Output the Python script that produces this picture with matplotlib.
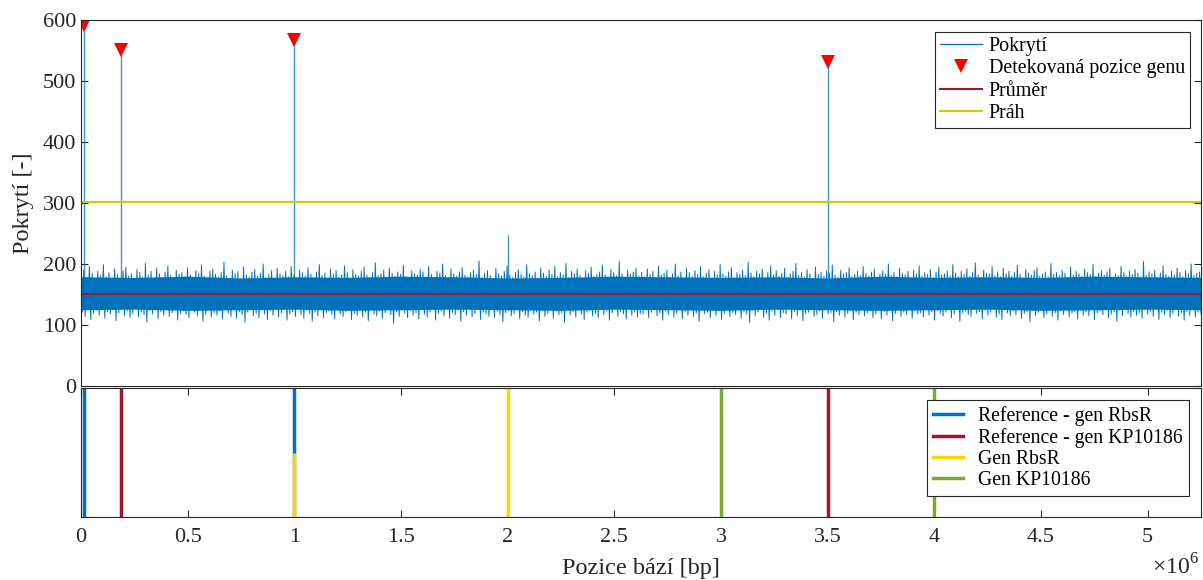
import numpy as np
import matplotlib.pyplot as plt
from matplotlib.lines import Line2D

plt.rcParams['font.family'] = ['Liberation Serif', 'DejaVu Serif']
plt.rcParams['mathtext.fontset'] = 'custom'
plt.rcParams['mathtext.rm'] = 'Liberation Serif'

genome_len = 5.25e6

# coverage fluctuations (alternating local maxima / minima along the genome)
cov_peaks = [183, 190, 178, 196, 185, 176, 188, 181, 199, 179, 186, 174, 192, 183, 177, 189, 195, 180, 184, 173,
             191, 186, 179, 201, 182, 188, 175, 193, 184, 178, 187, 197, 181, 176, 190, 183, 186, 179, 194, 182,
             177, 189, 185, 198, 180, 174, 188, 192, 183, 179, 186, 203, 181, 177, 190, 184, 188, 176, 195, 182,
             179, 187, 191, 180, 185, 200, 178, 183, 189, 176, 193, 184, 181, 188, 179, 196, 182, 175, 190, 186,
             180, 194, 183, 178, 187, 199, 181, 185, 176, 192, 184, 189, 179, 182, 197, 186, 177, 191, 183, 180,
             188, 195, 182, 178, 186, 202, 181, 184, 190, 177, 193, 185, 180, 187, 183, 198, 179, 176, 189, 184,
             182, 191, 187, 179, 196, 183, 178, 188, 185, 200, 181, 177, 192, 184, 180, 187, 194, 182, 179, 186,
             190, 183, 205, 178, 185, 189, 181, 176, 193, 184, 180, 188, 197, 182, 178, 186, 191, 183, 179, 199,
             184, 181, 187, 177, 194, 185, 180, 190, 183, 196, 179, 186, 182, 201, 178, 188, 184, 192, 181, 177,
             189, 185, 195, 180, 183, 187, 198, 182, 179, 191, 186, 181, 204, 184, 178, 190, 183, 187, 193, 180,
             186, 179, 192, 183, 188, 176, 197, 182, 185, 190, 178, 184, 200, 181, 187, 175, 193, 186, 180, 189,
             183, 196, 179, 185, 191, 177, 188, 182, 199, 184, 180, 187, 194, 178, 186, 183, 190, 181, 203, 185,
             179, 188, 184, 192, 177, 186, 197, 182, 189, 180, 185, 193, 178, 184, 188, 201, 181, 186, 179, 191,
             184, 177, 195, 183, 187, 180, 189, 185, 198, 182, 178, 190, 184, 186, 194, 179, 183, 188, 181, 196,
             185, 180, 187, 192, 178, 184, 189, 183, 200, 181, 186, 179, 193, 185, 182, 188, 177, 190, 184, 197,
             180, 186, 183, 191, 178, 187, 195, 182, 184, 189, 181, 199, 185, 179, 188, 183, 192, 180, 186, 202,
             182, 178, 190, 185, 184, 196, 181, 187, 179, 193, 184, 188, 180, 186, 198, 183, 177, 191, 185, 182,
             189, 194, 180, 184, 187, 179, 201, 183, 186, 181, 190, 185, 178, 195, 182, 188, 184, 180, 192, 186,
             183, 199, 179, 185, 189, 182, 187, 193, 178, 184, 181, 196, 186, 180, 188, 183, 191, 185, 179, 204,
             181, 187, 184, 190, 178, 185, 197, 183, 180, 188, 182, 193, 186, 179, 189, 184, 200, 181, 185, 187]
cov_troughs = [121, 114, 127, 109, 119, 124, 116, 128, 111, 122, 118, 125, 107, 120, 126, 115, 123, 112, 119, 127,
               113, 121, 117, 105, 124, 118, 126, 110, 122, 116, 128, 114, 120, 125, 108, 119, 123, 117, 112, 126,
               121, 115, 124, 106, 118, 127, 113, 120, 116, 123, 110, 125, 119, 114, 128, 111, 122, 117, 104, 121,
               126, 115, 119, 112, 124, 118, 109, 123, 116, 127, 113, 120, 125, 108, 118, 122, 114, 126, 117, 111,
               124, 119, 106, 121, 115, 127, 112, 120, 123, 117, 110, 125, 118, 114, 122, 128, 109, 119, 116, 124,
               113, 121, 107, 126, 118, 115, 123, 111, 120, 125, 117, 103, 122, 114, 127, 119, 112, 124, 116, 120,
               110, 126, 118, 113, 121, 125, 108, 119, 123, 115, 127, 111, 120, 117, 124, 106, 122, 116, 128, 113,
               119, 125, 109, 121, 118, 114, 126, 112, 123, 117, 105, 120, 124, 115, 119, 127, 110, 122, 116, 113,
               125, 118, 121, 107, 124, 114, 119, 126, 111, 123, 117, 120, 104, 125, 116, 122, 113, 127, 118, 109,
               121, 124, 115, 119, 112, 126, 117, 123, 108, 120, 125, 114, 122, 118, 110, 127, 116, 121, 113, 119,
               118, 124, 112, 121, 127, 115, 120, 108, 123, 117, 126, 113, 119, 125, 110, 122, 116, 128, 114, 120,
               106, 124, 118, 121, 112, 127, 116, 123, 109, 119, 125, 114, 120, 117, 126, 111, 122, 118, 104, 124,
               115, 121, 127, 113, 119, 108, 123, 116, 125, 112, 120, 118, 126, 110, 122, 115, 124, 107, 119, 121,
               127, 114, 117, 123, 111, 125, 118, 120, 105, 122, 116, 126, 113, 119, 124, 109, 121, 117, 128, 115,
               120, 123, 112, 118, 126, 110, 122, 116, 124, 107, 119, 125, 114, 121, 117, 127, 111, 123, 118, 120,
               113, 126, 116, 122, 108, 124, 119, 115, 121, 127, 112, 118, 125, 106, 120, 123, 117, 114, 126, 119,
               122, 110, 124, 116, 121, 127, 113, 118, 109, 125, 120, 115, 123, 117, 128, 111, 119, 122, 105, 124,
               116, 121, 126, 112, 118, 125, 114, 120, 108, 123, 117, 127, 113, 119, 122, 110, 124, 116, 121, 115,
               126, 109, 120, 123, 117, 125, 112, 118, 121, 106, 124, 115, 127, 119, 113, 122, 116, 120, 111, 125,
               118, 123, 114, 126, 109, 121, 117, 124, 112, 119, 127, 115, 120, 108, 122, 116, 125, 113, 121, 118]
# dense core of the coverage band (every 0.25 Mbp)
band_hi = [179, 178, 180, 177, 179, 178, 180, 179, 177, 178, 180, 179, 178, 179, 177, 180, 178, 179, 178, 180, 179, 178]
band_lo = [125, 126, 124, 125, 126, 124, 125, 126, 125, 124, 126, 125, 124, 126, 125, 124, 125, 126, 124, 125, 126, 125]

spike_pos = [12000, 190000, 1000000, 2000000, 3500000]
spike_val = [592, 551, 567, 248, 531]
det_pos = [12000, 190000, 1000000, 3500000]
det_val = [592, 551, 567, 531]
mean_cov = 151
threshold = 302

ref_rbsr = [12000, 1000000]
ref_kp = [190000, 3500000]
gen_rbsr = [1000000, 2000000]
gen_rbsr_top = [0.5, 1.0]
gen_kp = [3000000, 4000000]

c_blue = '#0072BD'
c_red = '#A2142F'
c_thr = '#CCCC00'
c_yel = '#FFD500'
c_green = '#77AC30'
dark = '#262626'

fig = plt.figure(figsize=(12.03, 5.8), dpi=100)
ax1 = fig.add_axes([0.0673, 0.3345, 0.931, 0.631])
ax2 = fig.add_axes([0.0673, 0.1086, 0.931, 0.2224])

# coverage trace
zig = np.ravel(np.column_stack([cov_peaks, cov_troughs]))
xz = np.linspace(0, genome_len, len(zig))
ax1.fill_between(np.linspace(0, genome_len, len(band_hi)), band_lo, band_hi, color=c_blue, lw=0)
ax1.plot(xz, zig, color=c_blue, lw=0.7)
ax1.vlines(spike_pos, mean_cov, spike_val, color=c_blue, lw=1.0, alpha=0.75)
ax1.plot(det_pos, det_val, 'v', color='#FF0000', ms=9.5, markeredgewidth=0)
ax1.axhline(mean_cov, color=c_red, lw=1.5)
ax1.axhline(threshold, color=c_thr, lw=1.5)

ax1.set_xlim(0, genome_len)
ax1.set_ylim(0, 600)
ax1.set_yticks(np.arange(0, 601, 100))
ax1.set_xticks([])
ax1.tick_params(axis='y', direction='in', right=True, length=5, labelsize=16, colors=dark, width=0.8)
ax1.set_ylabel('Pokrytí [-]', fontsize=17.5, color=dark, labelpad=6)
for s in ax1.spines.values():
    s.set_color(dark)
    s.set_linewidth(0.8)

h1 = [Line2D([], [], color=c_blue, lw=0.9),
      Line2D([], [], marker='v', ls='none', color='#FF0000', ms=9.5, markeredgewidth=0),
      Line2D([], [], color=c_red, lw=1.5),
      Line2D([], [], color=c_thr, lw=1.5)]
leg1 = ax1.legend(h1, ['Pokrytí', 'Detekovaná pozice genu', 'Průměr', 'Práh'],
                  loc='upper right', bbox_to_anchor=(0.990, 0.967), fontsize=14.4, fancybox=False,
                  framealpha=1, edgecolor=dark, handlelength=2.1, handletextpad=0.35,
                  borderpad=0.25, labelspacing=0.17, borderaxespad=0)
leg1.get_frame().set_linewidth(0.8)

# gene position panel
ax2.vlines(ref_rbsr, 0, 1, color=c_blue, lw=2.5)
ax2.vlines(ref_kp, 0, 1, color=c_red, lw=2.5)
ax2.vlines(gen_rbsr, 0, gen_rbsr_top, color=c_yel, lw=2.5)
ax2.vlines(gen_kp, 0, 1, color=c_green, lw=2.5)
ax2.set_xlim(0, genome_len)
ax2.set_ylim(0, 1)
ax2.set_yticks([])
ax2.set_xticks(np.arange(0, 5.01e6, 0.5e6))
ax2.set_xticklabels(['0', '0.5', '1', '1.5', '2', '2.5', '3', '3.5', '4', '4.5', '5'])
ax2.tick_params(axis='x', direction='in', top=True, length=5, labelsize=16, colors=dark, width=0.8, pad=8)
ax2.set_xlabel('Pozice bází [bp]', fontsize=17.5, color=dark, labelpad=8)
for s in ax2.spines.values():
    s.set_color(dark)
    s.set_linewidth(0.8)
ax2.text(0.998, -0.29, r'$\times 10^{6}$', transform=ax2.transAxes, ha='right', va='top',
         fontsize=17, color=dark)

h2 = [Line2D([], [], color=c_blue, lw=2.5),
      Line2D([], [], color=c_red, lw=2.5),
      Line2D([], [], color=c_yel, lw=2.5),
      Line2D([], [], color=c_green, lw=2.5)]
leg2 = ax2.legend(h2, ['Reference - gen RbsR', 'Reference - gen KP10186', 'Gen RbsR', 'Gen KP10186'],
                  loc='upper right', bbox_to_anchor=(0.989, 0.907), fontsize=14.2, fancybox=False,
                  framealpha=1, edgecolor=dark, handlelength=1.55, handletextpad=0.75,
                  borderpad=0.3, labelspacing=0.1, borderaxespad=0)
leg2.get_frame().set_linewidth(0.8)

fig.savefig('out.png', dpi=100)
